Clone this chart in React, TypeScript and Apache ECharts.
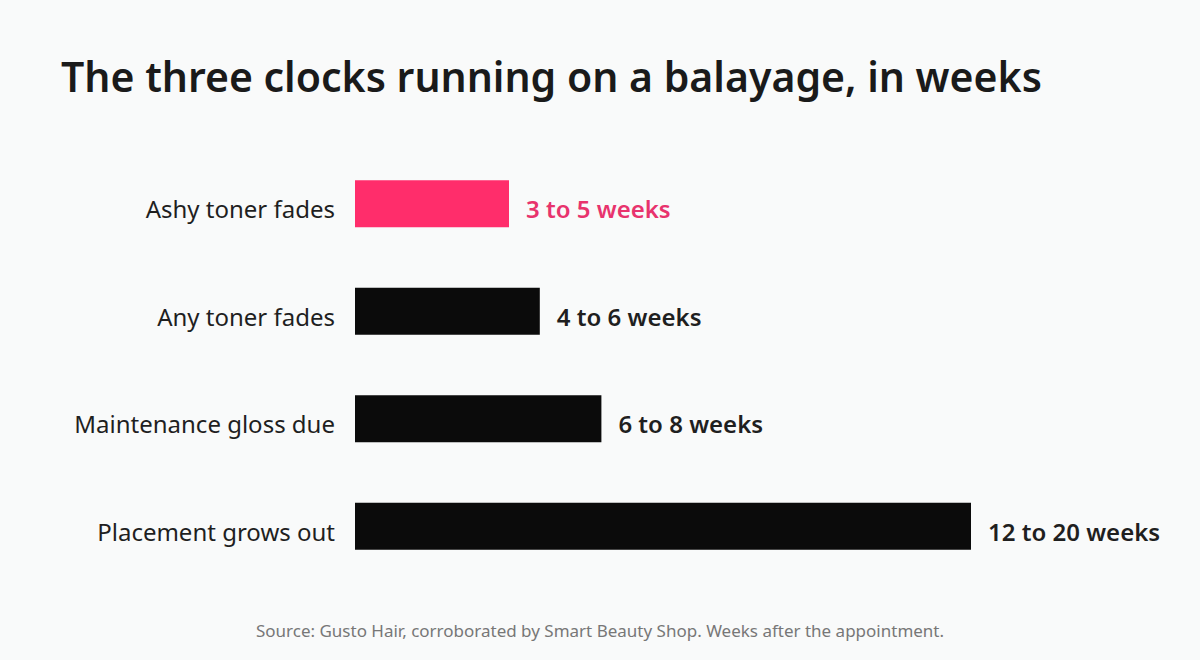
import React, { useEffect, useRef } from "react";
import * as echarts from "echarts";

const categories = ["Ashy toner fades", "Any toner fades", "Maintenance gloss due", "Placement grows out"];
const lowWeeks = [3, 4, 6, 12];
const highWeeks = [5, 6, 8, 20];
const highlight = [true, false, false, false];

const FONT = "'Noto Sans', 'Open Sans', sans-serif";

export default function App() {
  const ref = useRef<HTMLDivElement>(null);
  useEffect(() => {
    if (!ref.current) return;
    const chart = echarts.init(ref.current, undefined, { renderer: "svg" });
    const data = highWeeks.map((v, i) => ({
      value: v,
      itemStyle: { color: highlight[i] ? "#ff2d6b" : "#0b0b0b" },
      label: {
        show: true,
        position: "right",
        distance: 17,
        offset: [0, 5],
        formatter: `${lowWeeks[i]} to ${highWeeks[i]} weeks`,
        color: highlight[i] ? "#e8336d" : "#1f1f1f",
        fontSize: 24,
        fontWeight: 600,
        fontFamily: FONT,
      },
    }));
    chart.setOption({
      animation: false,
      backgroundColor: "#f9fafa",
      title: [
        {
          text: "The three clocks running on a balayage, in weeks",
          left: 56,
          top: 50,
          textStyle: { fontSize: 41, fontWeight: 600, color: "#1a1a1a", fontFamily: FONT },
        },
        {
          text: "Source: Gusto Hair, corroborated by Smart Beauty Shop. Weeks after the appointment.",
          left: "center",
          top: 617,
          textStyle: { fontSize: 17, fontWeight: 400, color: "#777777", fontFamily: FONT },
        },
      ],
      grid: { left: 355, width: 616, top: 150, height: 430, containLabel: false },
      xAxis: {
        type: "value",
        min: 0,
        max: 20,
        show: false,
      },
      yAxis: {
        type: "category",
        data: categories,
        inverse: true,
        axisLine: { show: false },
        axisTick: { show: false },
        axisLabel: {
          margin: 20,
          formatter: (v: string) => `{a|${v}}`,
          rich: {
            a: { fontSize: 24, color: "#1f1f1f", fontFamily: FONT, padding: [10, 0, 0, 0] },
          },
        },
      },
      series: [
        {
          type: "bar",
          data,
          barWidth: 47,
        },
      ],
    });
    return () => chart.dispose();
  }, []);
  return <div ref={ref} style={{ position: "fixed", left: 0, top: 0, width: 1200, height: 660 }} />;
}
